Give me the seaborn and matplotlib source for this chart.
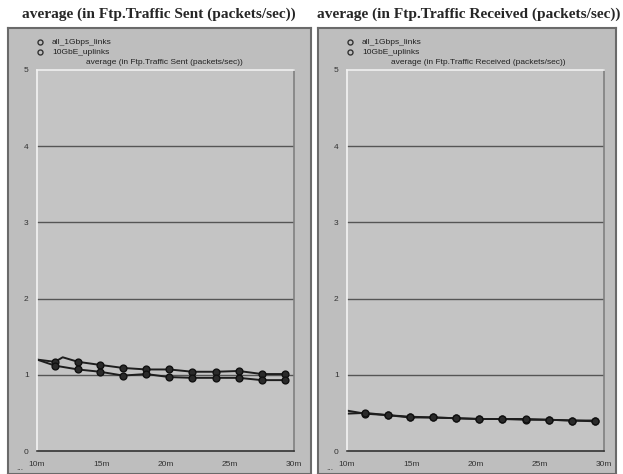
import matplotlib.pyplot as plt
from matplotlib.lines import Line2D
import seaborn as sns
import pandas as pd

# data (minutes vs packets/sec)
mark_times = [11.4, 13.2, 14.9, 16.7, 18.5, 20.3, 22.1, 23.9, 25.7, 27.5, 29.3]

sent_1g_times = [10.0, 11.4, 12.0, 13.2, 14.9, 16.7, 18.5, 20.3, 22.1, 23.9, 25.7, 27.5, 29.3]
sent_1g = [1.20, 1.17, 1.23, 1.17, 1.13, 1.09, 1.07, 1.07, 1.04, 1.04, 1.05, 1.01, 1.01]
sent_10g_times = [10.0] + mark_times
sent_10g = [1.20, 1.12, 1.07, 1.04, 0.99, 1.01, 0.97, 0.96, 0.96, 0.96, 0.93, 0.93]

recv_1g_times = [10.0] + mark_times
recv_1g = [0.53, 0.49, 0.47, 0.45, 0.44, 0.43, 0.42, 0.42, 0.41, 0.41, 0.40, 0.40]
recv_10g_times = [10.0] + mark_times
recv_10g = [0.49, 0.50, 0.47, 0.44, 0.44, 0.43, 0.42, 0.42, 0.42, 0.41, 0.40, 0.39]

series_names = ['all_1Gbps_links', '10GbE_uplinks']
x_ticks = [10, 15, 20, 25, 30]
x_labels = ['10m', '15m', '20m', '25m', '30m']
y_ticks = [0, 1, 2, 3, 4, 5]
y_labels = ['0', '1', '2', '3', '4', '5']

titles = ['average (in Ftp.Traffic Sent (packets/sec))',
          'average (in Ftp.Traffic Received (packets/sec))']

W, H = 623, 474
sns.set_style('white')
small = 'Liberation Sans'

fig = plt.figure(figsize=(W / 100, H / 100), dpi=100)
fig.patch.set_facecolor('white')


def fx(px):
    return px / W


def fy(py):
    return 1 - py / H


def draw_panel(x0, x1, plot_x0, plot_x1, title, title_cx, sub_cx, lines):
    # outer grey box
    bg = fig.add_axes([fx(x0), 0, fx(x1 - x0), fy(28)])
    bg.set_facecolor('#bebebe')
    bg.set_xticks([])
    bg.set_yticks([])
    for s in bg.spines.values():
        s.set_color('#6a6a6a')
        s.set_linewidth(1.5)

    fig.text(fx(title_cx), fy(14), title, ha='center', va='center',
             fontsize=11.1, fontweight='bold', family='Liberation Serif')

    # legend entries and subtitle
    for i, name in enumerate(series_names):
        yy = fy(42 + 10 * i)
        fig.add_artist(Line2D([fx(x0 + 32)], [yy], marker='o', markersize=3.6,
                              markerfacecolor='none', markeredgecolor='#333333',
                              markeredgewidth=1.0, linestyle='none',
                              transform=fig.transFigure))
        fig.text(fx(x0 + 44), yy, name, ha='left', va='center', fontsize=6,
                 color='#222222', family=small)
    fig.text(fx(sub_cx), fy(63), title, ha='center', va='center', fontsize=6,
             color='#222222', family=small)

    ax = fig.add_axes([fx(plot_x0), fy(451), fx(plot_x1 - plot_x0), fy(70) - fy(451)])
    ax.set_facecolor('#c4c4c4')
    for (t, v) in lines:
        df = pd.DataFrame({'t': t, 'v': v})
        sns.lineplot(data=df, x='t', y='v', ax=ax, color='#1e1e1e', linewidth=1.4,
                     estimator=None, sort=False)
        dm = df[df['t'].isin(mark_times)]
        sns.scatterplot(data=dm, x='t', y='v', ax=ax, color='#2a2a2a', edgecolor='#111111',
                        s=24, linewidth=1.0, zorder=5)

    for yv in y_ticks[1:-1]:
        ax.axhline(yv, color='#555555', linewidth=1.0, zorder=1)

    ax.set_xlim(10, 30)
    ax.set_ylim(0, 5)
    ax.set_xticks(x_ticks)
    ax.set_xticklabels(x_labels, fontsize=6, color='#333333', family=small)
    ax.set_yticks(y_ticks)
    ax.set_yticklabels(y_labels, fontsize=6, color='#333333', family=small)
    ax.tick_params(axis='x', length=6, width=1, color='#333333', pad=4, direction='inout')
    ax.tick_params(axis='y', length=0, pad=6)
    ax.set_xlabel('')
    ax.set_ylabel('')
    ax.spines['left'].set_color('#f4f4f4')
    ax.spines['top'].set_color('#f0f0f0')
    ax.spines['right'].set_color('#808080')
    ax.spines['bottom'].set_color('#333333')
    for s in ax.spines.values():
        s.set_linewidth(1.2)
    ax.text(-0.065, -0.045, '...', transform=ax.transAxes, fontsize=6, color='#333333',
            ha='center', va='center', family=small)
    return ax


draw_panel(8, 311, 37, 294, titles[0], 159, 164,
           [(sent_1g_times, sent_1g), (sent_10g_times, sent_10g)])
draw_panel(318, 616, 347, 604, titles[1], 469, 478,
           [(recv_1g_times, recv_1g), (recv_10g_times, recv_10g)])

fig.savefig('out.png', dpi=100)
